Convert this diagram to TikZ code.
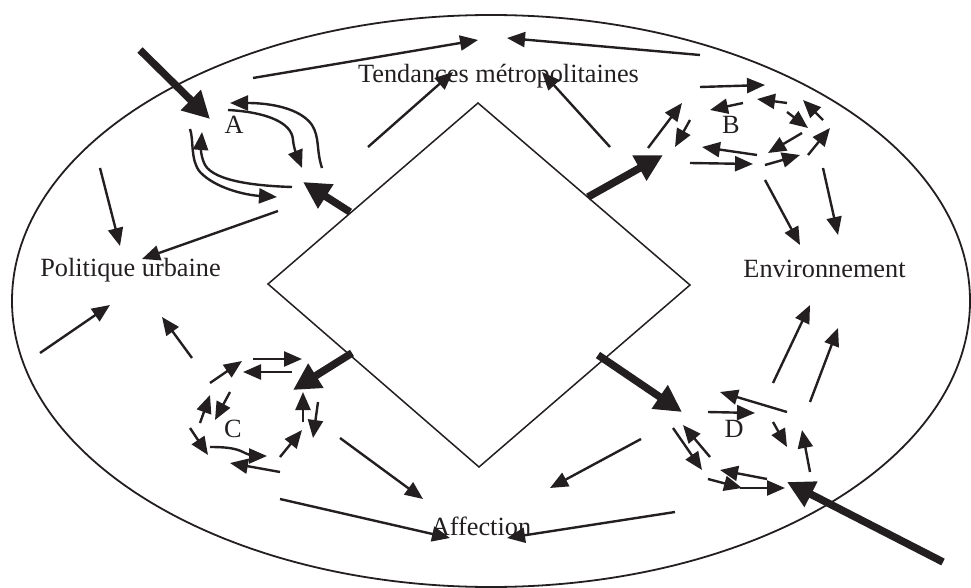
\documentclass[tikz,border=0pt]{standalone}
\usepackage{fontspec}
\setmainfont{Liberation Serif}
\usetikzlibrary{arrows.meta}
\definecolor{ink}{RGB}{35,31,32}
\begin{document}
\begin{tikzpicture}[x=1pt,y=-1pt,color=ink,
  arr/.style={draw=ink,line width=2.4pt,-{Triangle[length=18pt,width=15pt]}},
  bigarr/.style={draw=ink,line width=7.5pt,-{Triangle[length=27pt,width=27pt]}},
  lbl/.style={font=\fontsize{26.3}{30}\selectfont,inner sep=0pt,anchor=base,text=ink},
  frame/.style={draw=ink,line width=1.8pt},
  rhomb/.style={draw=ink,line width=1.5pt}]
\useasboundingbox (0,0) rectangle (971,588);

% outer boundary and central square
\draw[frame] (491,301) ellipse [x radius=479, y radius=286];
\draw[rhomb] (478,103) -- (690,285) -- (479,467) -- (268,284) -- cycle;

% labels
\node[lbl] (tend) at (498.5,82.5) {Tendances métropolitaines};
\node[lbl] (pol)  at (130.5,276)  {Politique urbaine};
\node[lbl] (env)  at (824.5,277)  {Environnement};
\node[lbl] (aff)  at (481,535)    {Affection};
\node[lbl] (A) at (234,134) {A};
\node[lbl] (B) at (731,134) {B};
\node[lbl] (C) at (233,437) {C};
\node[lbl] (D) at (734,437) {D};

% towards the metropolitan trends
\draw[arr] (253,78) -- (478,40);
\draw[arr] (700,55) -- (507,38);
\draw[arr] (368,147) -- (453,72);
\draw[arr] (610,147) -- (542,72);

% loop A
\draw[bigarr] (140,50) -- (210,119);
\draw[bigarr] (350,212) -- (303,182);
\draw[arr] (322,168) .. controls (316,150) and (320,138) .. (312,125)
           .. controls (300,108) and (270,103) .. (230,103);
\draw[arr] (228,110) .. controls (265,112) and (292,122) .. (293,140)
           .. controls (294,150) and (298,158) .. (302,168);
\draw[arr] (190,129) .. controls (194,140) and (190,160) .. (200,172)
           .. controls (215,188) and (245,195) .. (277,197);
\draw[arr] (292,187) .. controls (260,186) and (215,182) .. (205,165)
           .. controls (200,155) and (201,145) .. (202,132);

% towards urban policy
\draw[arr] (278,211) -- (142,259);
\draw[arr] (100,168) -- (120,246);
\draw[arr] (40,353) -- (110,305);
\draw[arr] (192,358) -- (162,317);

% loop C
\draw[bigarr] (352,353) -- (293,390);
\draw[arr] (253,359) -- (302,359);
\draw[arr] (292,372) -- (243,372);
\draw[arr] (210,383) -- (242,361);
\draw[arr] (200,423) -- (210,395);
\draw[arr] (230,392) -- (215,420);
\draw[arr] (190,428) -- (208,455);
\draw[arr] (210,447) .. controls (225,447) and (235,448) .. (243,452)
           .. controls (250,456) and (258,456) .. (267,456);
\draw[arr] (280,472) -- (230,463);
\draw[arr] (280,457) -- (302,430);
\draw[arr] (303,422) -- (303,392);
\draw[arr] (318,402) -- (313,438);

% towards affection
\draw[arr] (340,438) -- (423,499);
\draw[arr] (280,499) -- (450,538);
\draw[arr] (675,512) -- (507,538);
\draw[arr] (641,439) -- (550,488);

% loop B
\draw[bigarr] (588,197) -- (663,155);
\draw[arr] (648,148) -- (682,103);
\draw[arr] (690,120) -- (675,147);
\draw[arr] (700,87) -- (765,85);
\draw[arr] (743,103) -- (710,110);
\draw[arr] (787,103) -- (757,99);
\draw[arr] (787,112) -- (808,128);
\draw[arr] (823,120) -- (803,100);
\draw[arr] (808,155) -- (830,128);
\draw[arr] (802,133) -- (768,153);
\draw[arr] (765,165) -- (800,155);
\draw[arr] (757,155) -- (702,147);
\draw[arr] (690,163) -- (753,164);

% towards the environment
\draw[arr] (765,180) -- (800,245);
\draw[arr] (823,168) -- (838,235);
\draw[arr] (773,383) -- (810,305);
\draw[arr] (810,402) -- (838,328);

% loop D
\draw[bigarr] (598,355) -- (682,412);
\draw[bigarr] (943,562) -- (787,482);
\draw[arr] (787,412) -- (720,392);
\draw[arr] (708,412) -- (755,413);
\draw[arr] (773,422) -- (787,447);
\draw[arr] (810,472) -- (802,430);
\draw[arr] (673,428) -- (702,470);
\draw[arr] (710,457) -- (683,425);
\draw[arr] (767,479) -- (720,470);
\draw[arr] (708,479) -- (742,488);
\draw[arr] (740,488) -- (785,488);
\end{tikzpicture}
\end{document}
